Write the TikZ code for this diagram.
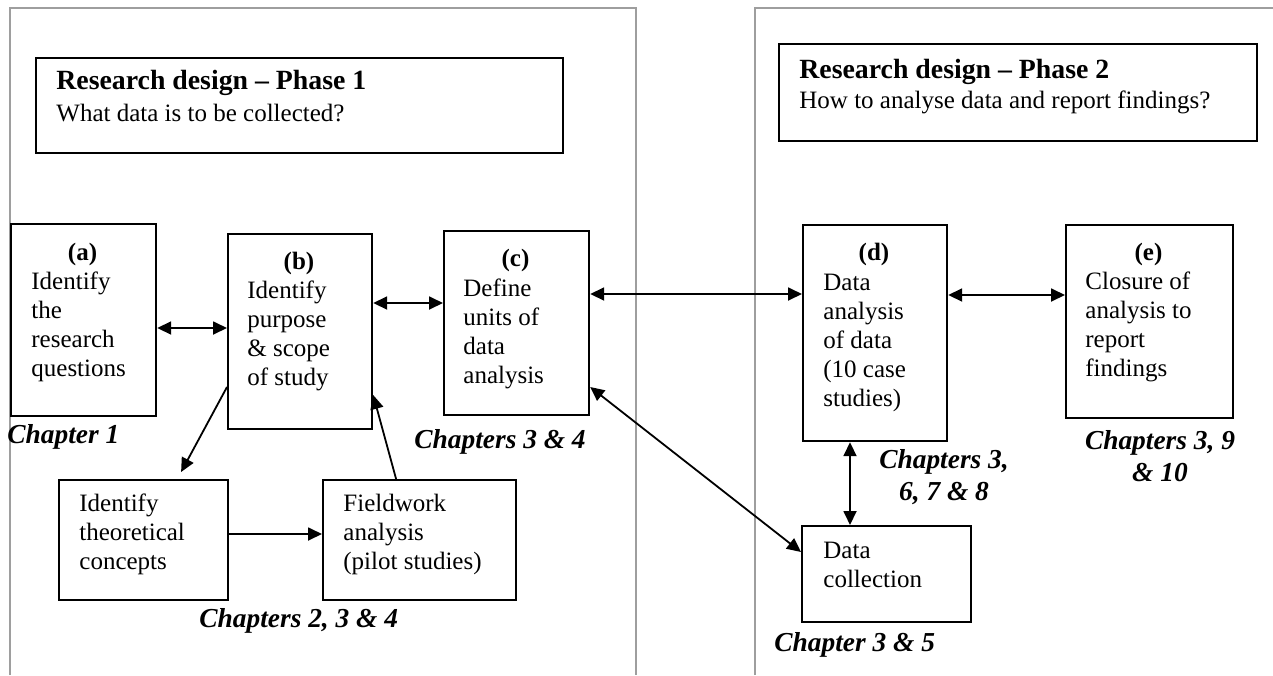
\documentclass[tikz,border=0pt]{standalone}
\usepackage{fontspec}
\setmainfont{Liberation Serif}
\usetikzlibrary{arrows.meta}
\begin{document}
\begin{tikzpicture}[x=0.5pt,y=-0.5pt,
  panel/.style={draw=black!38, line width=1pt},
  box/.style={draw, line width=1.1pt, inner sep=0pt, anchor=north west},
  body/.style={font=\fontsize{12.5}{14.5}\selectfont, align=left, inner sep=0pt, anchor=base west},
  lab/.style={font=\fontsize{12.5}{14.5}\selectfont\bfseries, inner sep=0pt, anchor=base},
  ttl/.style={font=\fontsize{13.9}{16}\selectfont\bfseries, inner sep=0pt, anchor=base west},
  chap/.style={font=\fontsize{13.7}{16}\selectfont\bfseries\itshape, inner sep=0pt, anchor=base west},
  chapc/.style={font=\fontsize{13.7}{16}\selectfont\bfseries\itshape, inner sep=0pt, anchor=base, align=center},
  conn/.style={line width=0.9pt, -{Triangle[length=7pt,width=6.5pt]}},
  biconn/.style={line width=0.9pt, {Triangle[length=7pt,width=6.5pt]}-{Triangle[length=7pt,width=6.5pt]}}]
\useasboundingbox (0,0) rectangle (1273,675);
% panels
\draw[panel] (10,675) -- (10,8) -- (636,8) -- (636,675);
\draw[panel] (755,675) -- (755,8) -- (1273,8);
% boxes
\newcommand\mkbox[5]{\node[box, minimum width=#4*0.5pt, minimum height=#5*0.5pt] (#1) at (#2,#3) {};}
\mkbox{p1}{35}{57}{527}{95}
\mkbox{p2}{778}{43}{478}{97}
\mkbox{a}{10}{223}{145}{192}
\mkbox{b}{227}{233}{144}{195}
\mkbox{c}{443}{230}{145}{184}
\mkbox{d}{802}{224}{144}{216}
\mkbox{e}{1065}{224}{167}{193}
\mkbox{th}{58}{479}{169}{120}
\mkbox{fw}{322}{479}{193}{120}
\mkbox{dc}{801}{525}{169}{96}
% titles
\node[ttl] (p1t) at (56,89) {Research design -- Phase 1};
\node[body] (p1s) at (56,121) {What data is to be collected?};
\node[ttl] (p2t) at (799,78) {Research design -- Phase 2};
\node[body] (p2s) at (799,108) {How to analyse data and report findings?};
% labels
\node[lab] (al) at (82.5,260) {(a)};
\node[lab] (bl) at (299,269) {(b)};
\node[lab] (cl) at (515.5,266) {(c)};
\node[lab] (dl) at (874,260) {(d)};
\node[lab] (el) at (1148.5,260) {(e)};
% body texts (base anchor = last line)
\node[body] (at) at (31,376) {Identify\\the\\research\\questions};
\node[body] (bt) at (247,385) {Identify\\purpose\\\& scope\\of study};
\node[body] (ct) at (463,383) {Define\\units of\\data\\analysis};
\node[body] (dt) at (823,406) {Data\\analysis\\of data\\(10 case\\studies)};
\node[body] (et) at (1085,376) {Closure of\\analysis to\\report\\findings};
\node[body] (tht) at (79,569) {Identify\\theoretical\\concepts};
\node[body] (fwt) at (343,569) {Fieldwork\\analysis\\(pilot studies)};
\node[body] (dct) at (823,587) {Data\\collection};
% chapter labels
\node[chap] (ch1) at (7,443) {Chapter 1};
\node[chap] (ch34) at (414,448) {Chapters 3 \& 4};
\node[chap] (ch234) at (199,627) {Chapters 2, 3 \& 4};
\node[chapc] (ch3678) at (944,500) {Chapters 3,\\6, 7 \& 8};
\node[chapc] (ch3910) at (1160,481) {Chapters 3, 9\\\& 10};
\node[chap] (ch35) at (774,651) {Chapter 3 \& 5};
% connector levels
\coordinate (y328) at (0,328);
\coordinate (y303) at (0,303);
\coordinate (y294) at (0,294);
\coordinate (y295) at (0,295);
\coordinate (y387) at (0,387);
\coordinate (y534) at (0,534);
\coordinate (y395) at (0,395);
\coordinate (y552) at (0,552);
\coordinate (x850) at (850,0);
% connectors
\draw[biconn] (a.east |- y328) -- (b.west |- y328);
\draw[biconn] (b.east |- y303) -- (c.west |- y303);
\draw[biconn] (c.east |- y294) -- (d.west |- y294);
\draw[biconn] (d.east |- y295) -- (e.west |- y295);
\draw[conn] (b.west |- y387) -- ([xshift=18.75pt,yshift=3.5pt]th.north);
\draw[conn] (th.east |- y534) -- (fw.west |- y534);
\draw[conn] ([xshift=-11.75pt]fw.north) -- (b.east |- y395);
\draw[biconn] (c.east |- y387) -- (dc.west |- y552);
\draw[biconn] (d.south -| x850) -- (dc.north -| x850);
\end{tikzpicture}
\end{document}
